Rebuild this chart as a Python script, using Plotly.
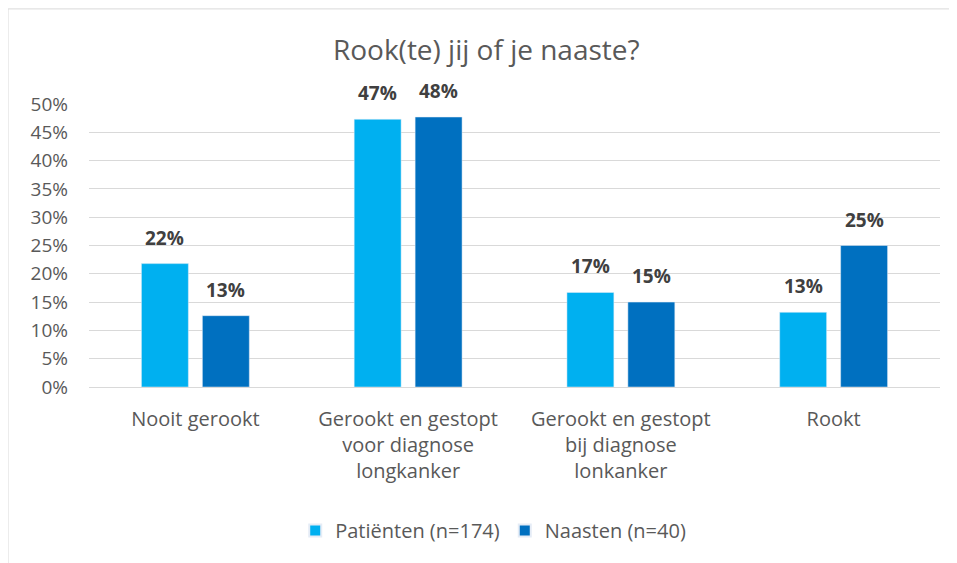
import plotly.graph_objects as go

categories = [
    "Nooit gerookt",
    "Gerookt en gestopt<br>voor diagnose<br>longkanker",
    "Gerookt en gestopt<br>bij diagnose<br>lonkanker",
    "Rookt",
]
patienten = [0.218, 0.473, 0.167, 0.132]
naasten = [0.126, 0.477, 0.150, 0.250]

y_ticks = [i / 100 for i in range(0, 51, 5)]
y_labels = [f"{i}%" for i in range(0, 51, 5)]

FONT = "Open Sans"
GREY = "#595959"
SLOT = 30.5  # half distance between bar centres in a group, px

fig = go.Figure()
fig.add_trace(go.Bar(
    x=categories, y=patienten, name="Patiënten (n=174)",
    marker=dict(color="#00B0F0")))
fig.add_trace(go.Bar(
    x=categories, y=naasten, name="Naasten (n=40)",
    marker=dict(color="#0070C0")))

# value labels above the bars
labels = []
for series, shift in [(patienten, -SLOT), (naasten, SLOT)]:
    for cat, v in zip(categories, series):
        labels.append(dict(
            x=cat, y=v, xref="x", yref="y", text=f"{v:.0%}",
            showarrow=False, xshift=shift, yshift=11, yanchor="bottom",
            font=dict(family=FONT, size=19, color="#404040", weight="bold")))

fig.update_layout(
    width=949, height=555,
    margin=dict(l=81, r=17, t=96, b=176),
    paper_bgcolor="white", plot_bgcolor="white",
    barmode="group", bargap=0.427, bargroupgap=0.23,
    title=dict(text="Rook(te) jij of je naaste?", x=0.504, xanchor="center",
               y=0.924, yanchor="middle",
               font=dict(family=FONT, size=28, color=GREY)),
    font=dict(family=FONT, color=GREY),
    showlegend=True,
    legend=dict(orientation="h", x=0.475, xanchor="center", y=-0.507,
                yanchor="middle", font=dict(family=FONT, size=20, color=GREY),
                itemsizing="constant"),
    annotations=labels,
    shapes=[dict(type="rect", xref="paper", yref="paper",
                 x0=-0.0952, x1=1.5, y0=-1.0, y1=1.336,
                 line=dict(color="#D9D9D9", width=1), layer="below")],
)
fig.update_yaxes(
    range=[0, 0.5], tickvals=y_ticks, ticktext=y_labels,
    showgrid=True, gridcolor="#D9D9D9", gridwidth=1,
    zeroline=False, showline=False, ticks="",
    ticklabelstandoff=20,
    tickfont=dict(family=FONT, size=19, color=GREY))
fig.update_xaxes(
    showline=True, linecolor="#D9D9D9", linewidth=1, ticks="",
    ticklabelstandoff=14,
    tickfont=dict(family=FONT, size=20, color=GREY))

fig.write_html("out.html")
